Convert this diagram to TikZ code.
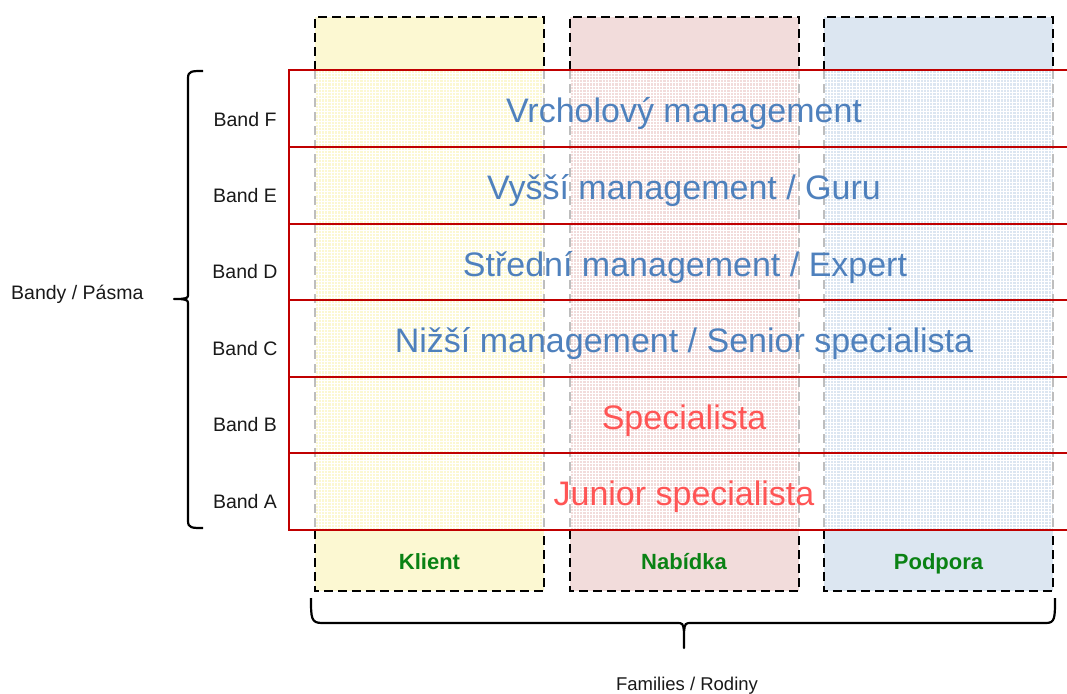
\documentclass[tikz,border=0pt]{standalone}
\usepackage{fontspec}
\setmainfont{Liberation Sans}
\definecolor{colY}{RGB}{252,248,210}
\definecolor{colP}{RGB}{242,220,219}
\definecolor{colB}{RGB}{220,230,241}
\definecolor{bandred}{RGB}{192,0,0}
\definecolor{txtblue}{RGB}{79,129,189}
\definecolor{txtred}{RGB}{255,85,85}
\definecolor{txtgreen}{RGB}{10,130,20}
\definecolor{dashgray}{RGB}{190,190,190}
\tikzset{
  outerdash/.style={draw=black,line width=2.4pt,dash pattern=on 9pt off 5pt},
  innerdash/.style={draw=dashgray,line width=2.4pt,dash pattern=on 9pt off 5pt},
  redline/.style={draw=bandred,line width=2.4pt},
  gridline/.style={draw=white,line width=0.9pt},
  bigblue/.style={text=txtblue,font=\fontsize{34}{38}\selectfont,inner sep=0pt,anchor=base},
  bigred/.style={text=txtred,font=\fontsize{34}{38}\selectfont,inner sep=0pt,anchor=base},
  bandlbl/.style={text=black!90,font=\fontsize{19.5}{22}\selectfont,inner sep=0pt,anchor=base},
  famlbl/.style={text=txtgreen,font=\bfseries\fontsize{22}{26}\selectfont,inner sep=0pt,anchor=base},
  brace/.style={draw=black,line width=2.2pt,line join=round}
}
\begin{document}
\begin{tikzpicture}[x=1pt,y=-1pt]
\useasboundingbox (0,0) rectangle (1067,693);
% columns
\foreach \x/\c in {315/colY,570/colP,824/colB}{
  \fill[\c] (\x,17) rectangle ++(229,574);
  \begin{scope}
    \clip (\x,70) rectangle ++(229,460);
    \foreach \i in {0,...,72}{
      \draw[gridline] (\x+\i*3.2,70) -- ++(0,460);
    }
    \foreach \j in {0,...,144}{
      \draw[gridline] (\x,70+\j*3.2) -- ++(229,0);
    }
  \end{scope}
  \draw[innerdash] (\x,70) -- (\x,530);
  \draw[innerdash] (\x+229,70) -- (\x+229,530);
  \draw[outerdash] (\x,70) -- (\x,17) -- (\x+229,17) -- (\x+229,70);
  \draw[outerdash] (\x,530) -- (\x,591) -- (\x+229,591) -- (\x+229,530);
}
% band rows
\foreach \y in {70,147,224,300,377,453,530}{
  \draw[redline] (289,\y) -- (1070,\y);
}
\draw[redline] (289,69) -- (289,531);
% row texts
\node[bigblue] (tF) at (684,122) {Vrcholový management};
\node[bigblue] (tE) at (684,199) {Vyšší management / Guru};
\node[bigblue] (tD) at (685,276) {Střední management / Expert};
\node[bigblue] (tC) at (684,352) {Nižší management / Senior specialista};
\node[bigred] (tB) at (684,429) {Specialista};
\node[bigred] (tA) at (684,505) {Junior specialista};
% band labels
\node[bandlbl] (bF) at (245,126) {Band F};
\node[bandlbl] (bE) at (245,202) {Band E};
\node[bandlbl] (bD) at (245,278) {Band D};
\node[bandlbl] (bC) at (245,355) {Band C};
\node[bandlbl] (bB) at (245,431) {Band B};
\node[bandlbl] (bA) at (245,508) {Band A};
% family labels
\node[famlbl] (fK) at (429.5,569) {Klient};
\node[famlbl] (fN) at (684,569) {Nabídka};
\node[famlbl] (fP) at (938.5,569) {Podpora};
% braces
\draw[brace] (203,71) .. controls (192,71) and (188,71) .. (188,78) -- (188,294)
  .. controls (188,298) .. (180,299) -- (174,299) -- (180,299)
  .. controls (188,300) .. (188,305) -- (188,521)
  .. controls (188,528) and (192,528) .. (203,528);
\draw[brace] (311,598) .. controls (311,618) and (311,623) .. (322,623) -- (676,623)
  .. controls (683,623) .. (684,632) -- (684,648) -- (684,632)
  .. controls (685,623) .. (692,623) -- (1046,623)
  .. controls (1055,623) and (1055,618) .. (1055,598);
\node[bandlbl,anchor=base west] (bandy) at (11,299) {Bandy / Pásma};
\node[bandlbl,font=\fontsize{18.5}{22}\selectfont] (fam) at (687,690) {Families / Rodiny};
\end{tikzpicture}
\end{document}
